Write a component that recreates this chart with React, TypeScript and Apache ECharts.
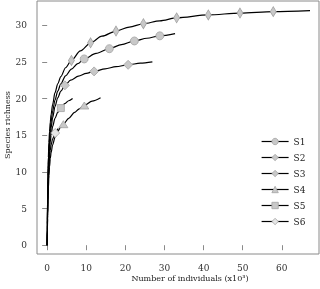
import React, { useEffect, useRef } from "react";
import * as echarts from "echarts";

// Rarefaction curves: [individuals (x10^3), species richness]
const s1Curve = [[0, 0], [0.05, 3], [0.1, 5.5], [0.2, 8.8], [0.3, 11], [0.45, 13.2], [0.6, 14.6], [0.8, 15.9], [1, 16.8], [1.4, 18.3], [2, 19.8], [2.7, 21], [3.5, 22], [4.7, 23.1], [6.2, 24.0], [7.8, 24.75], [12.5, 26.15], [19, 27.35], [25.5, 28.22], [32.7, 28.85]];
const s1Markers = [[9.46, 25.4], [15.9, 26.8], [22.3, 27.85], [28.8, 28.55]];

const s2Curve = [[0, 0], [0.05, 2.8], [0.1, 5], [0.2, 8.3], [0.3, 10.5], [0.45, 12.6], [0.6, 13.9], [0.8, 15.1], [1, 16], [1.4, 17.4], [2, 18.9], [2.7, 20.1], [3.5, 21], [6, 22.5], [8, 23.05], [10, 23.42], [14.8, 24.05], [17.6, 24.35], [23.8, 24.82], [26.9, 25.0]];
const s2Markers = [[4.53, 21.8], [12.0, 23.7], [20.7, 24.6]];

const s3Curve = [[0, 0], [0.05, 3.5], [0.1, 6], [0.2, 9.5], [0.3, 12], [0.45, 14], [0.6, 15.5], [0.8, 16.8], [1, 17.8], [1.4, 19.2], [2, 20.8], [2.7, 22], [3.5, 23], [4.7, 24.2], [8.5, 26.5], [14, 28.5], [21, 29.75], [28.8, 30.6], [67.2, 32.0]];
const s3Markers = [[6.2, 25.2], [11.1, 27.6], [17.6, 29.2], [24.6, 30.2], [33.1, 31.0], [41.2, 31.4], [49.3, 31.65], [57.8, 31.85]];

const s4Curve = [[0, 0], [0.05, 2], [0.1, 3.6], [0.2, 6], [0.3, 7.7], [0.45, 9.5], [0.6, 10.7], [0.8, 11.8], [1, 12.6], [1.4, 13.7], [2, 14.7], [2.7, 15.5], [3.4, 16.05], [5.5, 17.3], [7, 18.1], [8.2, 18.6], [11.5, 19.65], [13.65, 20.1]];
const s4Markers = [[4.15, 16.5], [9.5, 19.05]];

const s5Curve = [[0, 0], [0.05, 2.4], [0.1, 4.3], [0.2, 7.3], [0.3, 9.3], [0.45, 11.4], [0.6, 12.8], [0.8, 14.1], [1, 15], [1.4, 16.2], [2, 17.3], [2.7, 18.1], [4.5, 19.3], [5.5, 19.7], [6.5, 20.0]];
const s5Markers = [[3.5, 18.7]];

const s6Curve = [[0, 0], [0.05, 2.2], [0.1, 4], [0.2, 6.8], [0.3, 8.7], [0.45, 10.6], [0.6, 11.9], [0.8, 12.95], [1, 13.7], [1.4, 14.5], [2.8, 15.9]];
const s6Markers = [[2.05, 15.3]];

const seriesNames = ["S1", "S2", "S3", "S4", "S5", "S6"];
const xTicks = [0, 10, 20, 30, 40, 50, 60];
const yTicks = [0, 5, 10, 15, 20, 25, 30];

const FONT = "DejaVu Serif";

function buildData(curve: number[][], markers: number[][]) {
  const pts = [
    ...curve.map((p) => ({ value: p, m: false })),
    ...markers.map((p) => ({ value: p, m: true })),
  ];
  pts.sort((a, b) => a.value[0] - b.value[0]);
  return pts.map((p) => (p.m ? { value: p.value } : { value: p.value, symbol: "none" }));
}

export default function App() {
  const ref = useRef<HTMLDivElement>(null);
  useEffect(() => {
    if (!ref.current) return;
    const chart = echarts.init(ref.current, null, { renderer: "svg" });
    const markerFill = "#c8c8c8";
    const markerBorder = "#a3a3a3";
    const defs = [
      { name: "S1", curve: s1Curve, markers: s1Markers, symbol: "circle", size: 8, fill: markerFill },
      { name: "S2", curve: s2Curve, markers: s2Markers, symbol: "diamond", size: [9, 9], fill: markerFill },
      { name: "S3", curve: s3Curve, markers: s3Markers, symbol: "diamond", size: [6, 10], fill: markerFill },
      { name: "S4", curve: s4Curve, markers: s4Markers, symbol: "triangle", size: [9, 7], fill: markerFill },
      { name: "S5", curve: s5Curve, markers: s5Markers, symbol: "rect", size: 7, fill: markerFill },
      { name: "S6", curve: s6Curve, markers: s6Markers, symbol: "diamond", size: [9, 9], fill: "#e6e6e6" },
    ];
    chart.setOption({
      animation: false,
      grid: { left: 37, top: 1, width: 282, height: 253, show: true, borderColor: "#8a8a8a", borderWidth: 1 },
      xAxis: {
        type: "value",
        min: -2.6,
        max: 69.5,
        splitLine: { show: false },
        axisLine: { show: false },
        axisTick: { show: true, inside: false, length: 5, lineStyle: { color: "#8a8a8a" }, customValues: xTicks },
        axisLabel: { customValues: xTicks, margin: 9, fontFamily: FONT, fontSize: 9, color: "#333" },
      },
      yAxis: {
        type: "value",
        min: -1.2,
        max: 33.3,
        splitLine: { show: false },
        axisLine: { show: false },
        axisTick: { show: true, inside: false, length: 5, lineStyle: { color: "#8a8a8a" }, customValues: yTicks },
        axisLabel: { customValues: yTicks, margin: 10, fontFamily: FONT, fontSize: 9, color: "#333" },
      },
      legend: {
        orient: "vertical",
        left: 256,
        top: 132,
        itemWidth: 27,
        itemHeight: 8,
        itemGap: 7,
        data: defs.map((d) => ({
          name: d.name,
          itemStyle: { color: d.fill, borderColor: markerBorder, borderWidth: 0.8 },
          lineStyle: { color: "#000", width: 1.2 },
        })),
        textStyle: { fontFamily: FONT, fontSize: 9, color: "#222" },
      },
      graphic: [
        {
          type: "text",
          x: 190,
          y: 278,
          style: { text: "Number of individuals (x10³)", fontFamily: FONT, fontSize: 8, fill: "#222", textAlign: "center", textVerticalAlign: "middle" },
        },
        {
          type: "text",
          x: 7,
          y: 125,
          rotation: Math.PI / 2,
          style: { text: "Species richness", fontFamily: FONT, fontSize: 8, fill: "#222", textAlign: "center", textVerticalAlign: "middle" },
        },
      ],
      series: defs.map((d) => ({
        name: d.name,
        type: "line",
        smooth: 0.3,
        smoothMonotone: "x",
        showSymbol: true,
        showAllSymbol: true,
        symbol: d.symbol,
        symbolSize: d.size,
        lineStyle: { color: "#000", width: 1.2 },
        itemStyle: { color: d.fill, borderColor: markerBorder, borderWidth: 0.8 },
        emphasis: { disabled: true },
        data: buildData(d.curve, d.markers),
      })),
    });
    return () => chart.dispose();
  }, []);
  return <div ref={ref} style={{ position: "fixed", left: 0, top: 0, width: 320, height: 289 }} />;
}
